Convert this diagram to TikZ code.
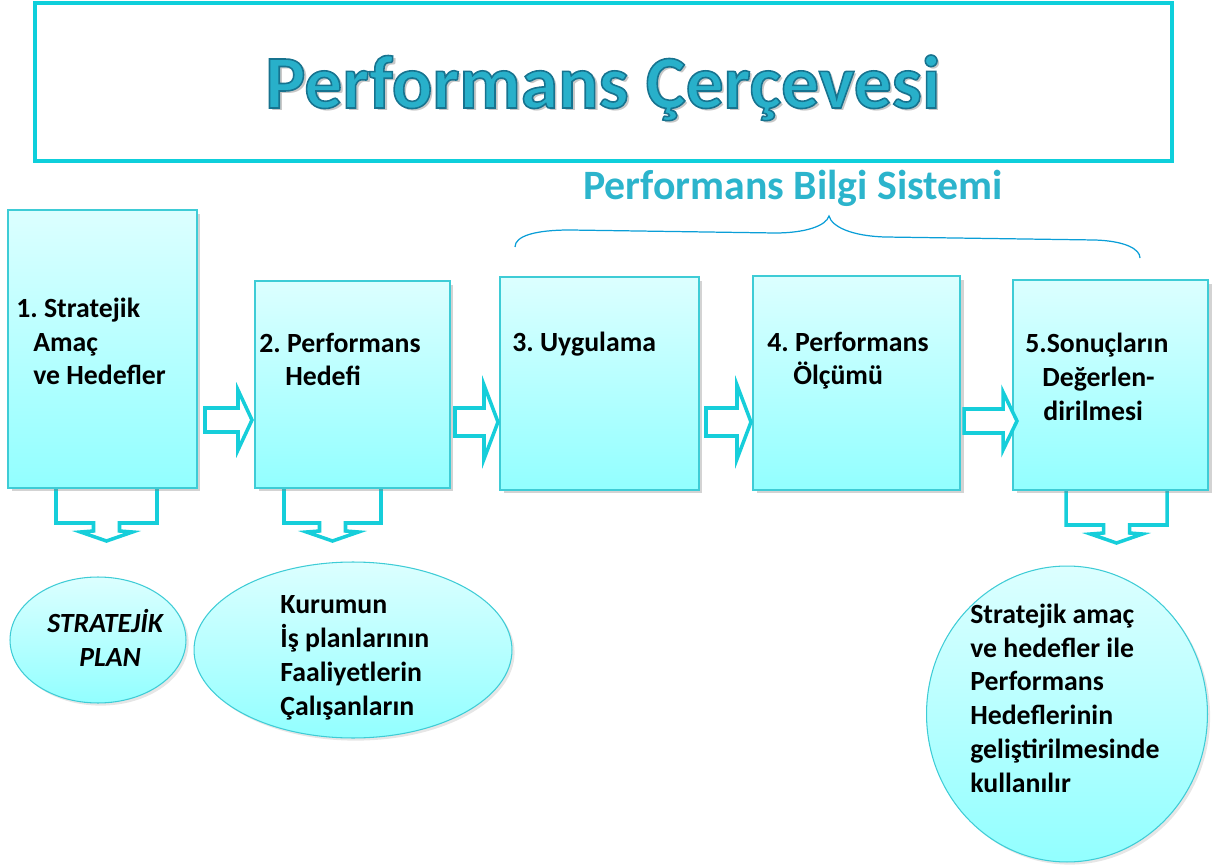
\documentclass[tikz,border=0pt]{standalone}
\usepackage{fontspec}
\setmainfont{Carlito}
\usetikzlibrary{shapes.geometric}
\usetikzlibrary{shadows}
\definecolor{framecol}{RGB}{14,207,219}
\definecolor{arrcol}{RGB}{22,206,218}
\definecolor{boxline}{RGB}{62,204,214}
\definecolor{boxtop}{RGB}{220,255,255}
\definecolor{boxbot}{RGB}{146,255,255}
\definecolor{titlecol}{RGB}{40,176,202}
\definecolor{bilgicol}{RGB}{44,180,204}
\definecolor{bracecol}{RGB}{10,158,215}
\newcommand{\outlined}[1]{\special{pdf:literal direct 2 Tr 0.9 w 0.09 0.45 0.56 RG}#1\special{pdf:literal direct 0 Tr}}
\tikzset{stagebox/.style = {draw=boxline, line width=0.8pt, top color=boxtop, bottom color=boxbot,
                            inner sep=0, outer sep=0,
                            drop shadow={shadow xshift=2pt, shadow yshift=-2pt, opacity=0.35}}}
\tikzset{ovalnode/.style = {ellipse, draw=boxline, line width=0.6pt, top color=boxtop, bottom color=boxbot,
                            inner sep=0, outer sep=0,
                            drop shadow={shadow xshift=1.5pt, shadow yshift=-1.5pt, opacity=0.2}}}
\tikzset{lbl/.style = {anchor=base west, align=left, inner sep=0,
                       font=\frenchspacing\bfseries\fontsize{15.8}{19.2}\selectfont}}
\tikzset{blockarr/.style = {draw=arrcol, line width=2pt, fill=white, line join=miter}}

\begin{document}
\begin{tikzpicture}[x=0.02cm, y=-0.02cm]
  \useasboundingbox (0,0) rectangle (1218,868);

  \node [draw=framecol, line width=2.3pt, minimum width=22.74cm, minimum height=3.16cm,
         inner sep=0] (frame) at (603.5,82) {};
  \node [anchor=base, inner sep=0, text=black!40, opacity=0.55,
         font=\bfseries\fontsize{43}{50}\selectfont] (tshadow) at (606,111) {Performans Çerçevesi};
  \node [anchor=base, inner sep=0, text=titlecol,
         font=\bfseries\fontsize{43}{50}\selectfont] (title) at (603,108)
        {\outlined{Performans Çerçevesi}};

  \node [anchor=base west, inner sep=0, text=bilgicol,
         font=\bfseries\fontsize{23.8}{28}\selectfont] (bilgi) at (583,200) {Performans Bilgi Sistemi};
  \draw [bracecol, line width=0.7pt] (515,247) .. controls (515,236) and (535,230) .. (570,230)
        -- (775,233) .. controls (805,233) and (826,226) .. (829,216)
        .. controls (832,227) and (852,236) .. (885,237)
        -- (1095,240) .. controls (1125,241) and (1140,249) .. (1140,258);

  % down arrows under the stages
  \foreach \xl/\xr/\yt/\yb in {56/157/486/523, 284/381/486/523, 1066/1167/488/525}{
    \pgfmathsetmacro\xm{(\xl+\xr)/2}
    \draw [blockarr] (\xl,\yt) -- (\xl,\yb) -- (\xm-13,\yb) -- (\xm-13,\yb+8) -- (\xm-26,\yb+9)
          -- (\xm,\yb+18) -- (\xm+26,\yb+9) -- (\xm+13,\yb+8) -- (\xm+13,\yb) -- (\xr,\yb)
          -- (\xr,\yt) -- cycle;
  }

  \node [stagebox, minimum width=3.78cm, minimum height=5.56cm] (amac) at (102.5,349) {};
  \node [stagebox, minimum width=3.90cm, minimum height=4.14cm] (hedef) at (352.5,384.5) {};
  \node [stagebox, minimum width=3.98cm, minimum height=4.26cm] (uyg) at (599.5,383.5) {};
  \node [stagebox, minimum width=4.14cm, minimum height=4.28cm] (olcum) at (856.5,383) {};
  \node [stagebox, minimum width=3.90cm, minimum height=4.20cm] (sonuc) at (1110.5,385) {};

  % multi-line labels sit on their last baseline
  \node [lbl] (t1) at (16,385) {1. Stratejik\\\hspace*{0.34cm}Amaç\\\hspace*{0.34cm}ve Hedefler};
  \node [lbl] (t2) at (259,386) {2. Performans\\\hspace*{0.52cm}Hedefi};
  \node [lbl] (t3) at (512,352) {3. Uygulama};
  \node [lbl] (t4) at (767,385) {4. Performans\\\hspace*{0.52cm}Ölçümü};
  \node [lbl] (t5) at (1025,420) {5.Sonuçların\\\hspace*{0.34cm}Değerlen-\\\hspace*{0.36cm}dirilmesi};

  % right arrows between the stages
  \foreach \xa/\xb/\bw/\hw/\yc in {205/252/12/30/420, 455/498/14/37/422, 706/751/14/37/422, 964/1017/12/29/421}
    \draw [blockarr] (\xa,\yc-\bw) -- (\xb-14,\yc-\bw) -- (\xb-14,\yc-\hw) -- (\xb,\yc)
          -- (\xb-14,\yc+\hw) -- (\xb-14,\yc+\bw) -- (\xa,\yc+\bw) -- cycle;

  \node [ovalnode, minimum width=3.52cm, minimum height=2.52cm] (plan) at (98,640) {};
  \node [ovalnode, minimum width=6.36cm, minimum height=3.52cm] (kurum) at (353,650) {};
  \node [ovalnode, minimum width=5.62cm, minimum height=5.92cm] (gelistir) at (1067,714) {};

  \node [lbl, font=\bfseries\itshape\fontsize{15.8}{19.2}\selectfont] (tplan) at (47,666)
        {STRATEJİK\\\hspace*{0.64cm}PLAN};
  \node [lbl] (tkurum) at (280,715) {Kurumun\\İş planlarının\\Faaliyetlerin\\Çalışanların};
  \node [lbl] (tgel) at (970,792) {Stratejik amaç\\ve hedefler ile\\Performans\\Hedeflerinin\\geliştirilmesinde\\kullanılır};
\end{tikzpicture}
\end{document}
